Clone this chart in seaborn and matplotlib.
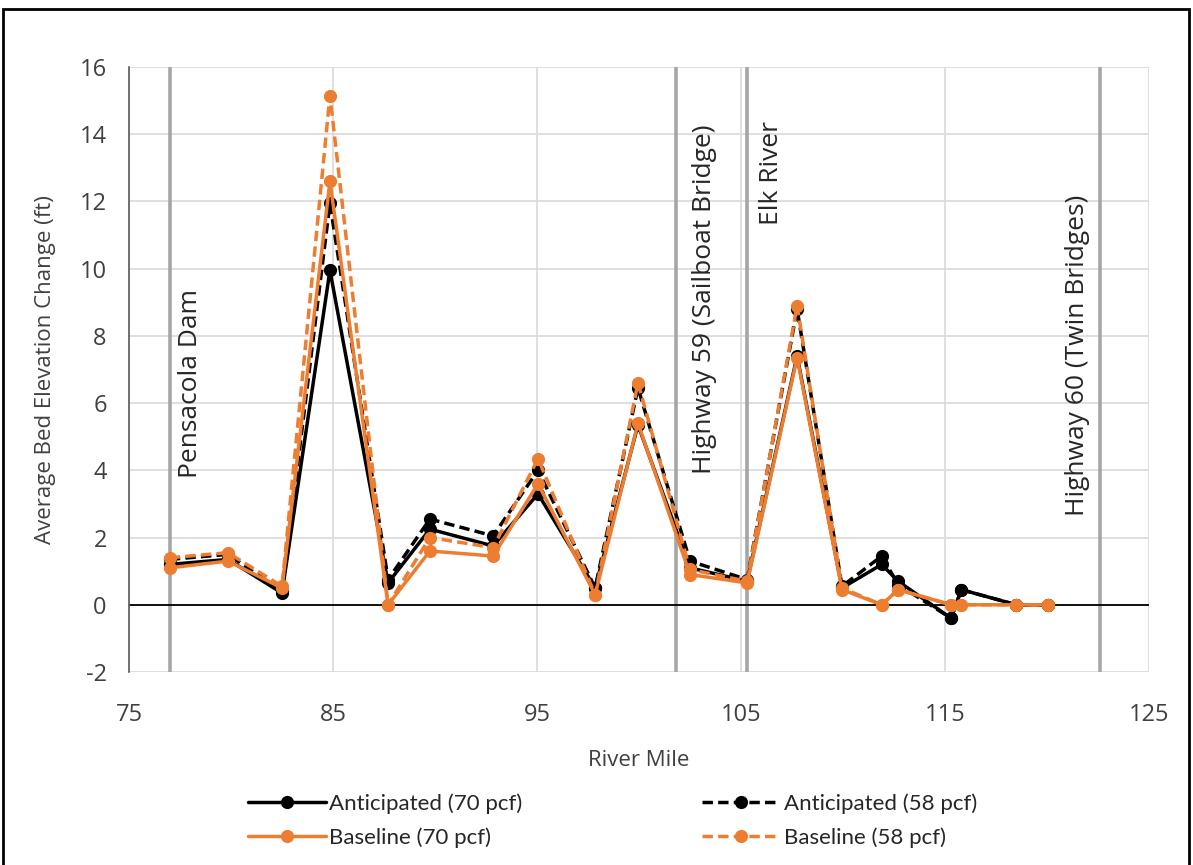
import numpy as np
import pandas as pd
import matplotlib.pyplot as plt
import seaborn as sns
from matplotlib.patches import Rectangle

# River mile of each cross section
river_mile = [77.0, 79.85, 82.5, 84.85, 87.7, 89.75, 92.85, 95.05, 97.85, 99.95,
              102.5, 105.3, 107.75, 109.95, 111.9, 112.7, 115.3, 115.8, 118.5, 120.05]

# Average bed elevation change (ft)
anticipated_70 = [1.2, 1.35, 0.35, 9.95, 0.65, 2.25, 1.75, 3.3, 0.5, 5.35,
                  1.1, 0.7, 7.4, 0.5, 1.2, 0.7, -0.4, 0.45, 0.0, 0.0]
anticipated_58 = [1.35, 1.5, 0.4, 11.95, 0.75, 2.55, 2.05, 4.0, 0.5, 6.45,
                  1.3, 0.75, 8.8, 0.55, 1.45, 0.6, -0.4, 0.45, 0.0, 0.0]
baseline_70 = [1.1, 1.3, 0.5, 12.6, 0.0, 1.6, 1.45, 3.6, 0.3, 5.4,
               0.9, 0.65, 7.35, 0.45, 0.0, 0.45, 0.0, 0.0, 0.0, 0.0]
baseline_58 = [1.4, 1.55, 0.55, 15.15, 0.0, 2.0, 1.7, 4.35, 0.3, 6.6,
               1.05, 0.7, 8.9, 0.5, 0.0, 0.45, 0.0, 0.0, 0.0, 0.0]

# Landmarks along the river
landmark_names = ["Pensacola Dam", "Highway 59 (Sailboat Bridge)", "Elk River", "Highway 60 (Twin Bridges)"]
landmark_miles = [77.0, 101.8, 105.3, 122.6]

BLACK = "#000000"
ORANGE = "#ED7D31"
DASH = (0, (3, 1.5))

series = [
    ("Anticipated (70 pcf)", anticipated_70, BLACK, "-"),
    ("Anticipated (58 pcf)", anticipated_58, BLACK, DASH),
    ("Baseline (70 pcf)", baseline_70, ORANGE, "-"),
    ("Baseline (58 pcf)", baseline_58, ORANGE, DASH),
]

sns.set_style("white")
plt.rcParams['font.family'] = ['Open Sans', 'DejaVu Sans']
plt.rcParams['axes.unicode_minus'] = False

fig = plt.figure(figsize=(11.93, 8.65), dpi=100)
ax = fig.add_axes([129 / 1193, 1 - 672 / 865, 1020 / 1193, 605 / 865])

# frame around the figure
fig.patches.append(Rectangle((3 / 1193, -0.05), 1186 / 1193, 1.05 - 9 / 865,
                             transform=fig.transFigure, fill=False,
                             edgecolor="black", linewidth=2))

for m in landmark_miles:
    ax.axvline(m, color="#a6a6a6", linewidth=2.6, zorder=1)

for name, vals, color, ls in series:
    df = pd.DataFrame({"mile": river_mile, "change": vals})
    sns.lineplot(data=df, x="mile", y="change", ax=ax, color=color, linestyle=ls,
                 linewidth=2.5, marker="o", markersize=9.5, markeredgewidth=0,
                 label=name, zorder=3, sort=False)

ax.axhline(0, color="black", linewidth=1.3, zorder=2)

ax.set_xlim(75, 125)
ax.set_ylim(-2, 16)
ax.set_xticks(np.arange(75, 126, 10))
ax.set_yticks(np.arange(-2, 17, 2))
ax.grid(True, color="#d9d9d9", linewidth=1.2)
ax.set_axisbelow(True)
for s in ["top", "right", "bottom"]:
    ax.spines[s].set_visible(False)
ax.spines["left"].set_color("#595959")
ax.spines["left"].set_linewidth(1.2)
ax.tick_params(axis="x", labelsize=17, colors="#404040", length=0, pad=22)
ax.tick_params(axis="y", labelsize=17, colors="#404040", length=0, pad=16)
ax.set_xlabel("River Mile", fontsize=16, color="#404040", labelpad=17)
ax.set_ylabel("Average Bed Elevation Change (ft)", fontsize=16, color="#404040", labelpad=17)

# landmark labels
label_x = [78.0, 103.2, 106.5, 121.5]
label_top = [9.4, 14.3, 14.4, 12.2]
for name, lx, ly in zip(landmark_names, label_x, label_top):
    ax.text(lx, ly, name, rotation=90, ha="center", va="top", fontsize=19, color="#262626")

# legend rows: anticipated on top, baseline below
h, l = ax.get_legend_handles_labels()
order = [0, 2, 1, 3]
ax.legend([h[i] for i in order], [l[i] for i in order],
          loc="upper center", bbox_to_anchor=(0.474, -0.168), ncol=2, frameon=False,
          handlelength=3.5, columnspacing=8.1, handletextpad=0.15,
          labelspacing=0.6, prop={"family": "Lato", "size": 16})

fig.savefig("out.png", dpi=100)
